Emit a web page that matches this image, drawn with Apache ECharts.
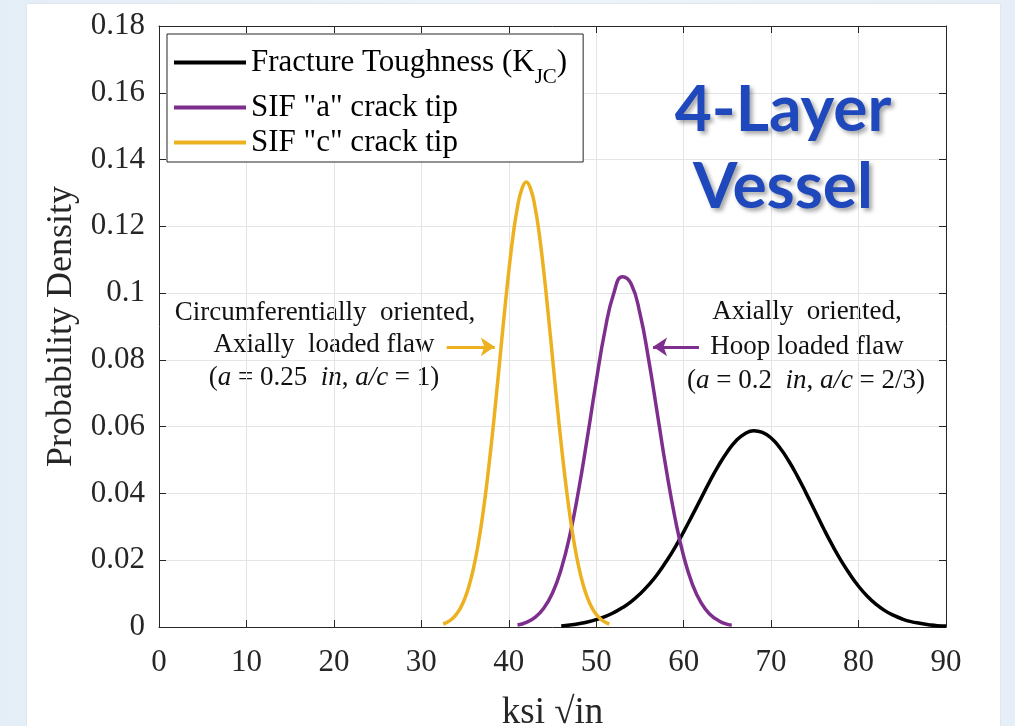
<!DOCTYPE html>
<html>
<head>
<meta charset="utf-8">
<script src="https://cdn.jsdelivr.net/npm/echarts@6/dist/echarts.min.js"></script>
<style>
html,body{margin:0;padding:0;width:1015px;height:726px;overflow:hidden;background:linear-gradient(90deg,#e4eef7 0%,#eef4fa 50%,#e6eff7 100%);}
#panel{position:absolute;left:27px;top:4px;width:973px;height:722px;background:#fff;box-shadow:0 0 0 1px #e2e6ea;}
#chart{position:absolute;left:0;top:0;width:1015px;height:726px;}
</style>
</head>
<body>
<div id="panel"></div>
<div id="chart"></div>
<script>
// ---- data ----
const xTickLabels = ['0','10','20','30','40','50','60','70','80','90'];
const yTickLabels = ['0','0.02','0.04','0.06','0.08','0.1','0.12','0.14','0.16','0.18'];

const seriesNames = ['Fracture Toughness (KJC)', 'SIF "a" crack tip', 'SIF "c" crack tip'];

// Fracture toughness (black)
const kjcX = [46,47,48,49,50,51,52,53,54,55,56,57,58,59,60,61,62,63,64,65,66,67,68,69,70,71,72,73,74,75,76,77,78,79,80,81,82,83,84,85,86,87,88,89,90];
const kjcY = [0.0003,0.0006,0.0010,0.0015,0.0022,0.0031,0.0043,0.0058,0.0076,0.0099,0.0126,0.0158,0.0196,0.0238,0.0285,0.0335,0.0386,0.0437,0.0484,0.0525,0.0558,0.0579,0.0588,0.0583,0.0566,0.0537,0.0498,0.0452,0.0401,0.0348,0.0295,0.0245,0.0199,0.0158,0.0122,0.0092,0.0068,0.0049,0.0035,0.0024,0.0016,0.0011,0.0007,0.0004,0.0003];

// SIF "a" crack tip (purple)
const sifAX = [41,42,43,44,45,46,47,48,49,50,51,52,53,54,55,56,57,58,59,60,61,62,63,64,65,65.5];
const sifAY = [0.0006,0.0014,0.0029,0.0056,0.0102,0.0174,0.0277,0.0412,0.0570,0.0736,0.0888,0.0999,0.1049,0.1027,0.0939,0.0800,0.0637,0.0473,0.0328,0.0212,0.0128,0.0072,0.0038,0.0019,0.0008,0.0006];

// SIF "c" crack tip (yellow)
const sifCX = [32.5,33,33.5,34,34.5,35,35.5,36,36.5,37,37.5,38,38.5,39,39.5,40,40.5,41,41.5,42,42.5,43,43.5,44,44.5,45,45.5,46,46.5,47,47.5,48,48.5,49,49.5,50,50.5,51,51.5];
const sifCY = [0.0009,0.0015,0.0024,0.0038,0.0058,0.0087,0.0127,0.0180,0.0248,0.0332,0.0432,0.0547,0.0673,0.0807,0.0940,0.1065,0.1174,0.1258,0.1312,0.1333,0.1312,0.1258,0.1174,0.1065,0.0940,0.0807,0.0673,0.0547,0.0432,0.0332,0.0248,0.0180,0.0127,0.0087,0.0058,0.0038,0.0024,0.0015,0.0009];

// annotation arrows (data coordinates: [x, y])
const arrowC = [[32.9, 0.0839], [38.4, 0.0839]];
const arrowA = [[61.75, 0.0839], [56.5, 0.0839]];

const colors = ['#000000', '#7E2F8E', '#EDB120'];

function pairs(xs, ys) { return xs.map((x, i) => [x, ys[i]]); }

const chart = echarts.init(document.getElementById('chart'), null, {renderer: 'canvas'});
const serif = '"Liberation Serif", "Times New Roman", serif';
const axisColor = '#262626';
const titleFont = 'bold 64px Lato, "Open Sans", sans-serif';
const noteFont = '27px "Liberation Serif", serif';

const option = {
  animation: false,
  backgroundColor: 'transparent',
  grid: {left: 159, right: 69, top: 26, bottom: 99, containLabel: false, outerBoundsMode: 'none'},
  legend: {
    show: true,
    orient: 'vertical',
    left: 167, top: 34,
    padding: [3, 16, 4, 7],
    itemGap: 4,
    itemWidth: 72, itemHeight: 4,
    backgroundColor: '#ffffff',
    borderColor: '#262626', borderWidth: 1,
    data: seriesNames.map((n, i) => ({name: n, icon: 'rect', itemStyle: {color: colors[i]}})),
    formatter: function (name) {
      if (name === seriesNames[0]) return '{n|Fracture Toughness (K}{s|JC}{n|)}';
      return '{n|' + name + '}';
    },
    textStyle: {
      fontFamily: serif, fontSize: 31, color: '#000',
      rich: {
        n: {fontFamily: serif, fontSize: 31, color: '#000', lineHeight: 36, verticalAlign: 'middle'},
        s: {fontFamily: serif, fontSize: 21, color: '#000', lineHeight: 21, padding: [30, 0, 0, 0], verticalAlign: 'middle'}
      }
    }
  },
  xAxis: [{
    type: 'value', min: 0, max: 90, interval: 10, position: 'bottom',
    name: 'ksi \u221Ain', nameLocation: 'middle', nameGap: 68,
    nameTextStyle: {fontFamily: serif, fontSize: 37, color: axisColor},
    axisLine: {show: true, onZero: false, lineStyle: {color: axisColor, width: 1}},
    axisTick: {show: true, inside: true, length: 7, lineStyle: {color: axisColor}},
    axisLabel: {margin: 20, fontFamily: serif, fontSize: 31, color: axisColor,
      formatter: v => xTickLabels[Math.round(v / 10)]},
    splitLine: {show: true, lineStyle: {color: '#e4e4e4', width: 1}}
  }, {
    type: 'value', min: 0, max: 90, interval: 10, position: 'top',
    axisLine: {show: true, onZero: false, lineStyle: {color: axisColor, width: 1}},
    axisTick: {show: true, inside: true, length: 7, lineStyle: {color: axisColor}},
    axisLabel: {show: false}, splitLine: {show: false}
  }],
  yAxis: [{
    type: 'value', min: 0, max: 0.18, interval: 0.02, position: 'left',
    name: 'Probability Density', nameLocation: 'middle', nameGap: 78,
    nameTextStyle: {fontFamily: serif, fontSize: 36, color: axisColor},
    axisLine: {show: true, onZero: false, lineStyle: {color: axisColor, width: 1}},
    axisTick: {show: true, inside: true, length: 7, lineStyle: {color: axisColor}},
    axisLabel: {margin: 14, fontFamily: serif, fontSize: 31, color: axisColor,
      formatter: v => yTickLabels[Math.round(v / 0.02)]},
    splitLine: {show: true, lineStyle: {color: '#e4e4e4', width: 1}}
  }, {
    type: 'value', min: 0, max: 0.18, interval: 0.02, position: 'right',
    axisLine: {show: true, onZero: false, lineStyle: {color: axisColor, width: 1}},
    axisTick: {show: true, inside: true, length: 7, lineStyle: {color: axisColor}},
    axisLabel: {show: false}, splitLine: {show: false}
  }],
  series: [
    {
      name: seriesNames[0], type: 'line', data: pairs(kjcX, kjcY), smooth: true,
      showSymbol: false, symbol: 'none', color: colors[0],
      lineStyle: {color: colors[0], width: 3.5}, z: 3
    },
    {
      name: seriesNames[1], type: 'line', data: pairs(sifAX, sifAY), smooth: true,
      showSymbol: false, symbol: 'none', color: colors[1],
      lineStyle: {color: colors[1], width: 3.5}, z: 4,
      markLine: {
        silent: true, symbol: ['none', 'arrow'], symbolSize: 14,
        label: {show: false},
        lineStyle: {color: colors[1], width: 3, type: 'solid'},
        data: [[{coord: arrowA[0]}, {coord: arrowA[1]}]]
      }
    },
    {
      name: seriesNames[2], type: 'line', data: pairs(sifCX, sifCY), smooth: true,
      showSymbol: false, symbol: 'none', color: colors[2],
      lineStyle: {color: colors[2], width: 3.5}, z: 5,
      markLine: {
        silent: true, symbol: ['none', 'arrow'], symbolSize: 14,
        label: {show: false},
        lineStyle: {color: colors[2], width: 3, type: 'solid'},
        data: [[{coord: arrowC[0]}, {coord: arrowC[1]}]]
      }
    }
  ],
  graphic: [
    // title
    {type: 'text', x: 783, y: 110, z: 10, style: {
      text: '4-Layer', textAlign: 'center', textVerticalAlign: 'middle',
      font: titleFont, fill: '#1F48BC',
      textShadowColor: 'rgba(0,0,0,0.35)', textShadowBlur: 4, textShadowOffsetX: 3, textShadowOffsetY: 3
    }},
    {type: 'text', x: 783, y: 187, z: 10, style: {
      text: 'Vessel', textAlign: 'center', textVerticalAlign: 'middle',
      font: titleFont, fill: '#1F48BC',
      textShadowColor: 'rgba(0,0,0,0.35)', textShadowBlur: 4, textShadowOffsetX: 3, textShadowOffsetY: 3
    }},
    // left annotation
    {type: 'text', x: 325, y: 313, style: {
      text: 'Circumferentially  oriented,', textAlign: 'center', textVerticalAlign: 'middle',
      font: noteFont, fill: '#111'
    }},
    {type: 'text', x: 324, y: 345, style: {
      text: 'Axially  loaded flaw', textAlign: 'center', textVerticalAlign: 'middle',
      font: noteFont, fill: '#111'
    }},
    {type: 'text', x: 324, y: 378, style: {
      text: '({i|a} = 0.25  {i|in}, {i|a/c} = 1)', textAlign: 'center', textVerticalAlign: 'middle',
      font: noteFont, fill: '#111',
      rich: {i: {fontStyle: 'italic', fontFamily: '"Liberation Serif", serif', fontSize: 27, fill: '#111'}}
    }},
    // right annotation
    {type: 'text', x: 807, y: 312, style: {
      text: 'Axially  oriented,', textAlign: 'center', textVerticalAlign: 'middle',
      font: noteFont, fill: '#111'
    }},
    {type: 'text', x: 807, y: 347, style: {
      text: 'Hoop loaded flaw', textAlign: 'center', textVerticalAlign: 'middle',
      font: noteFont, fill: '#111'
    }},
    {type: 'text', x: 806, y: 381, style: {
      text: '({i|a} = 0.2  {i|in}, {i|a/c} = 2/3)', textAlign: 'center', textVerticalAlign: 'middle',
      font: noteFont, fill: '#111',
      rich: {i: {fontStyle: 'italic', fontFamily: '"Liberation Serif", serif', fontSize: 27, fill: '#111'}}
    }}
  ]
};
chart.setOption(option);
</script>
</body>
</html>
